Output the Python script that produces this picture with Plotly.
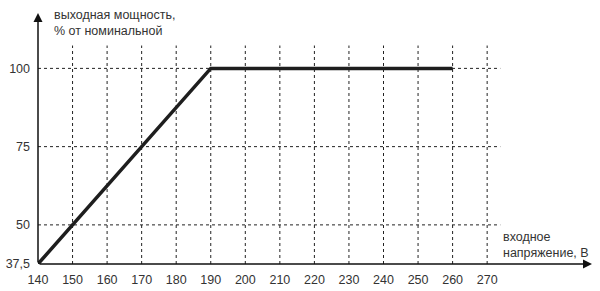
import plotly.graph_objects as go

# data
voltage = [140, 190, 260]
power = [37.5, 100, 100]
x_ticks = [140, 150, 160, 170, 180, 190, 200, 210, 220, 230, 240, 250, 260, 270]
y_ticks = [37.5, 50, 75, 100]
y_ticktext = ["37,5", "50", "75", "100"]
y_title = "выходная мощность,<br>% от номинальной"
x_title = "входное<br>напряжение, В"

W, H = 600, 291
ml, mr, mt, mb = 38, 10, 0, 27
px_x = 3.455  # px per volt
px_y = 3.13   # px per %
x_range = [140, 140 + (W - ml - mr) / px_x]
y_range = [37.5, 37.5 + (H - mt - mb) / px_y]

fig = go.Figure()
fig.add_trace(go.Scatter(x=voltage, y=power, mode="lines",
                         line=dict(color="#1e1e1e", width=3.5),
                         hoverinfo="skip", showlegend=False))

grid_top = 107.3
grid_right = 273.8
shapes = []
for xv in x_ticks[1:]:
    shapes.append(dict(type="line", xref="x", yref="y", x0=xv, x1=xv, y0=y_ticks[0], y1=grid_top,
                       line=dict(color="#222", width=1, dash="dot"), layer="below"))
for yv in y_ticks[1:]:
    shapes.append(dict(type="line", xref="x", yref="y", x0=x_ticks[0], x1=grid_right, y0=yv, y1=yv,
                       line=dict(color="#222", width=1, dash="dot"), layer="below"))

x_arrow_end = 140 + (592 - ml) / px_x
y_arrow_end = 37.5 + (264 - 13) / px_y

font = dict(family="Liberation Sans, Arial", size=12.5, color="#333")
annotations = [
    dict(x=x_arrow_end, y=37.5, ax=140, ay=37.5, xref="x", yref="y", axref="x", ayref="y",
         showarrow=True, arrowhead=2, arrowsize=1.2, arrowwidth=1.5, arrowcolor="#111", text=""),
    dict(x=140, y=y_arrow_end, ax=140, ay=37.5, xref="x", yref="y", axref="x", ayref="y",
         showarrow=True, arrowhead=2, arrowsize=1.2, arrowwidth=1.5, arrowcolor="#111", text=""),
    dict(x=140 + (52 - ml) / px_x, y=37.5 + (264 - 6) / px_y, xref="x", yref="y",
         xanchor="left", yanchor="top", align="left", showarrow=False, text=y_title, font=font),
    dict(x=140 + (501 - ml) / px_x, y=37.5 + (264 - 228) / px_y, xref="x", yref="y",
         xanchor="left", yanchor="top", align="left", showarrow=False, text=x_title, font=font),
]

fig.update_layout(
    width=W, height=H,
    margin=dict(l=ml, r=mr, t=mt, b=mb),
    paper_bgcolor="white", plot_bgcolor="white",
    shapes=shapes, annotations=annotations,
    font=font,
    xaxis=dict(range=x_range, tickvals=x_ticks, showgrid=False, zeroline=False,
               showline=False, ticks="", ticklabelstandoff=6, fixedrange=True),
    yaxis=dict(range=y_range, tickvals=y_ticks, ticktext=y_ticktext, showgrid=False,
               zeroline=False, showline=False, ticks="", ticklabelstandoff=7, fixedrange=True),
)

fig.write_html("out.html")
